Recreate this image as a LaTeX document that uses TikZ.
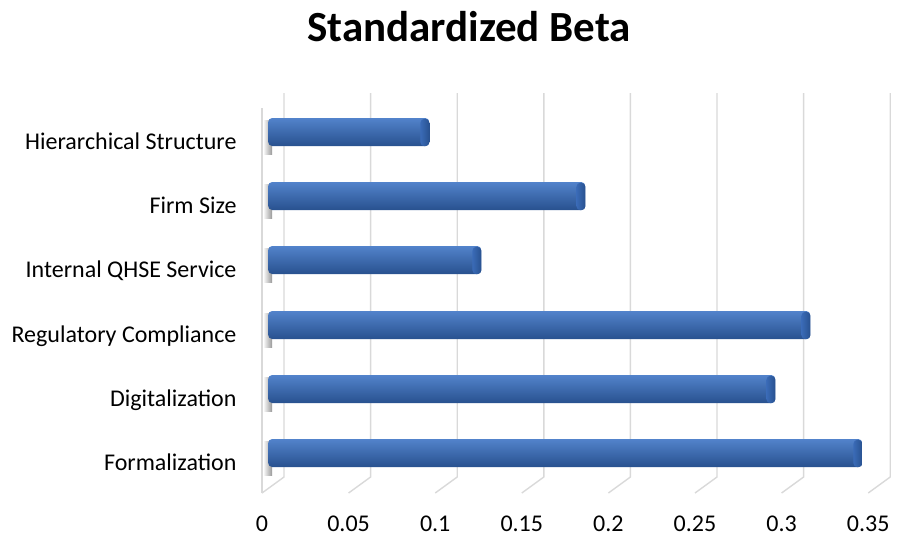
\documentclass[tikz,border=0pt]{standalone}
\usepackage{fontspec}
\setmainfont{Carlito}
\usepackage{tikz}
\usetikzlibrary{positioning,calc}
\usepackage{xcolor}
\definecolor{barmid}{HTML}{3A6BB7}
\definecolor{bartop}{HTML}{5283CB}
\definecolor{barbot}{HTML}{28518F}
\definecolor{gridc}{HTML}{D9D9D9}

\begin{document}
\begin{tikzpicture}[x=1pt, y=-1pt,
  font=\fontsize{24}{28}\selectfont,
  grid/.style={draw=gridc, line width=1.4pt},
  bar/.style={shade, top color=bartop, middle color=barmid, bottom color=barbot,
    rounded corners=4pt, minimum height=28pt, inner sep=0pt, anchor=west},
  barcap/.style={shade, left color=barmid, right color=barbot, rounded corners=4pt},
  wallshade/.style={left color=white, right color=black!40},
  cat/.style={anchor=base east},
  tick/.style={anchor=base}]
\useasboundingbox (0,0) rectangle (899,536);
% title
\node[font=\fontsize{43}{48}\bfseries\selectfont, anchor=base] (title) at (469,41) {Standardized Beta};
% side wall and back wall grid
\draw[grid] (262,108) -- (262,493);
\draw[grid] (284,93) -- (284,477) -- (262,493);
\draw[grid] (370.6,93) -- (370.6,477) -- (348.6,493);
\draw[grid] (457.2,93) -- (457.2,477) -- (435.2,493);
\draw[grid] (543.8,93) -- (543.8,477) -- (521.8,493);
\draw[grid] (630.4,93) -- (630.4,477) -- (608.4,493);
\draw[grid] (717.0,93) -- (717.0,477) -- (695.0,493);
\draw[grid] (803.6,93) -- (803.6,477) -- (781.6,493);
\draw[grid] (890.2,93) -- (890.2,477) -- (868.2,493);
% shadows of the bars on the side wall
\shade[wallshade] (263,120) rectangle (272,154);
\shade[wallshade] (263,184) rectangle (272,218);
\shade[wallshade] (263,248) rectangle (272,282);
\shade[wallshade] (263,313) rectangle (272,347);
\shade[wallshade] (263,377) rectangle (272,411);
\shade[wallshade] (263,441) rectangle (272,475);
% bars
\node[bar, minimum width=161pt] (hier) at (268,132) {};
\node[bar, minimum width=317pt] (size) at (268,196) {};
\node[bar, minimum width=213pt] (qhse) at (268,260) {};
\node[bar, minimum width=542pt] (regc) at (268,325) {};
\node[bar, minimum width=507pt] (digi) at (268,389) {};
\node[bar, minimum width=594pt] (form) at (268,453) {};
\shade[barcap] ($(hier.north east)+(-9,1)$) rectangle ($(hier.south east)+(0,0)$);
\shade[barcap] ($(size.north east)+(-9,1)$) rectangle ($(size.south east)+(0,0)$);
\shade[barcap] ($(qhse.north east)+(-9,1)$) rectangle ($(qhse.south east)+(0,0)$);
\shade[barcap] ($(regc.north east)+(-9,1)$) rectangle ($(regc.south east)+(0,0)$);
\shade[barcap] ($(digi.north east)+(-9,1)$) rectangle ($(digi.south east)+(0,0)$);
\shade[barcap] ($(form.north east)+(-9,1)$) rectangle ($(form.south east)+(0,0)$);
% category labels
\node[cat] (lhier) at (240,149) {Hierarchical Structure};
\node[cat] (lsize) at (240,213) {Firm Size};
\node[cat] (lqhse) at (240,277) {Internal QHSE Service};
\node[cat] (lregc) at (240,342) {Regulatory Compliance};
\node[cat] (ldigi) at (240,406) {Digitalization};
\node[cat] (lform) at (240,470) {Formalization};
% value axis
\node[tick] (t0) at (262,531) {0};
\node[tick] (t1) at (348.6,531) {0.05};
\node[tick] (t2) at (435.2,531) {0.1};
\node[tick] (t3) at (521.8,531) {0.15};
\node[tick] (t4) at (608.4,531) {0.2};
\node[tick] (t5) at (695.0,531) {0.25};
\node[tick] (t6) at (781.6,531) {0.3};
\node[tick] (t7) at (868.2,531) {0.35};
\end{tikzpicture}
\end{document}
